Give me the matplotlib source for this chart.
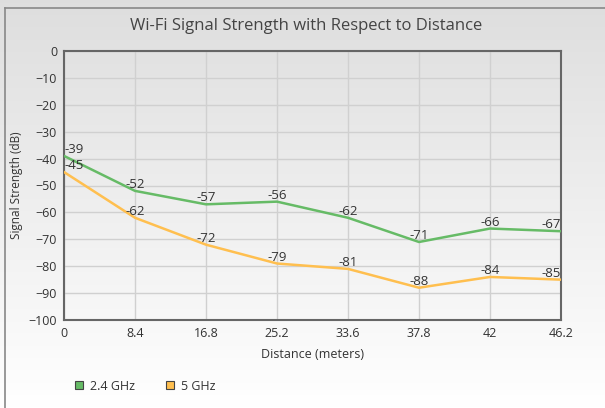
import numpy as np
import matplotlib.pyplot as plt
from matplotlib.lines import Line2D

plt.rcParams['font.family'] = ['Open Sans', 'DejaVu Sans']

# data
distances = ['0', '8.4', '16.8', '25.2', '33.6', '37.8', '42', '46.2']
ghz24 = [-39, -52, -57, -56, -62, -71, -66, -67]
ghz5 = [-45, -62, -72, -79, -81, -88, -84, -85]
series_names = ['2.4 GHz', '5 GHz']
colors = ['#66bb66', '#ffbf4f']

W, H = 605, 408
fig = plt.figure(figsize=(W / 100, H / 100), dpi=100)

# gradient background over whole figure
bg = fig.add_axes([0, 0, 1, 1], zorder=-10)
grad = np.linspace(0.87, 1.0, 256).reshape(-1, 1)
bg.imshow(np.dstack([grad, grad, grad]), aspect='auto', extent=[0, 1, 0, 1], origin='upper')
bg.set_xlim(0, 1)
bg.set_ylim(0, 1)
bg.axis('off')

# container border (left and top only, rest is clipped)
fig.add_artist(Line2D([5 / W, 5 / W], [0, 1 - 8 / H], transform=fig.transFigure, color='#888888', lw=1.2))
fig.add_artist(Line2D([5 / W, 1], [1 - 8 / H, 1 - 8 / H], transform=fig.transFigure, color='#888888', lw=1.2))

ax = fig.add_axes([64 / W, 1 - 320 / H, (561 - 64) / W, (320 - 51) / H])
ax.patch.set_alpha(0)

x = np.arange(len(distances))
for vals, c in zip([ghz24, ghz5], colors):
    ax.plot(x, vals, color=c, lw=1.8, solid_joinstyle='round', zorder=3)
    for i, v in enumerate(vals):
        ha = 'center'
        if i == 0:
            ha = 'left'
        elif i == len(vals) - 1:
            ha = 'right'
        ax.annotate(str(v), (x[i], v), xytext=(0, 0), textcoords='offset points',
                    ha=ha, va='bottom', fontsize=9.5, color='#333333', zorder=4)

ax.set_xlim(0, len(distances) - 1)
ax.set_ylim(-100, 0)
ax.set_xticks(x)
ax.set_xticklabels(distances)
ax.set_yticks(np.arange(-100, 1, 10))
ax.grid(True, color='#d0d0d0', lw=1)
ax.set_axisbelow(True)
ax.tick_params(length=0, labelsize=9, colors='#333333', pad=5)
for s in ax.spines.values():
    s.set_color('#666666')
    s.set_linewidth(1.5)

ax.set_xlabel('Distance (meters)', fontsize=9, color='#333333', labelpad=6)
ax.set_ylabel('Signal Strength (dB)', fontsize=8.5, color='#333333', labelpad=4)
fig.text(306 / W, 1 - 26 / H, 'Wi-Fi Signal Strength with Respect to Distance',
         ha='center', va='center', fontsize=12, color='#444444')

handles = [Line2D([], [], marker='s', ls='none', markersize=6, markerfacecolor=c,
                  markeredgecolor='#444444', markeredgewidth=0.8) for c in colors]
fig.legend(handles, series_names, loc='center left', bbox_to_anchor=(73 / W, 1 - 386 / H),
           ncol=2, frameon=False, fontsize=9, handletextpad=0.38, columnspacing=2.3,
           handlelength=1.0, borderpad=0, borderaxespad=0, labelcolor='#333333')

fig.savefig('out.png', dpi=100)
